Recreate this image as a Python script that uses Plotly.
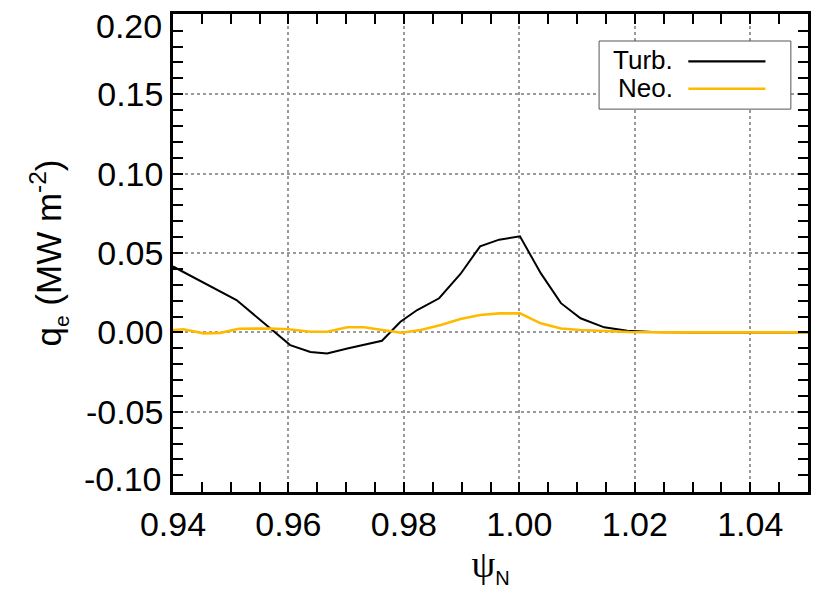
import plotly.graph_objects as go

# ---- data ----
turb_x = [0.940, 0.951, 0.9603, 0.9638, 0.9667, 0.9702, 0.9762, 0.9794, 0.9823, 0.9861,
          0.9898, 0.9932, 0.9965, 1.0001, 1.0037, 1.0072, 1.0106, 1.0147, 1.0187, 1.0230,
          1.030, 1.040, 1.050]
turb_y = [0.0415, 0.0204, -0.0080, -0.0123, -0.0133, -0.0101, -0.0053, 0.0067, 0.0141, 0.0215,
          0.0368, 0.0542, 0.0584, 0.0605, 0.0373, 0.0184, 0.0089, 0.0032, 0.0010, 0.0003,
          0.0, 0.0, 0.0]

neo_x = [0.9400, 0.9418, 0.9453, 0.9482, 0.9514, 0.9569, 0.9600, 0.9638, 0.9667, 0.9702,
         0.9731, 0.9760, 0.9795, 0.9829, 0.9864, 0.9898, 0.9932, 0.9965, 1.0001, 1.0037,
         1.0072, 1.0106, 1.0147, 1.0190, 1.025, 1.050]
neo_y = [0.0015, 0.0020, -0.0006, -0.0003, 0.0023, 0.0025, 0.0020, 0.0004, 0.0004, 0.0032,
         0.0032, 0.0015, -0.0002, 0.0015, 0.0046, 0.0085, 0.0110, 0.0120, 0.0120, 0.0057,
         0.0025, 0.0015, 0.0008, 0.0003, 0.0, 0.0]

x_ticks = [0.94, 0.96, 0.98, 1.00, 1.02, 1.04]
y_ticks = [-0.10, -0.05, 0.00, 0.05, 0.10, 0.15, 0.20]
legend_names = ["Turb.", "Neo."]
colors = ["black", "#FFBA00"]

FONT = "Liberation Sans, Arial, Helvetica, sans-serif"

fig = go.Figure()
fig.add_trace(go.Scatter(x=turb_x, y=turb_y, mode="lines", name=legend_names[0],
                         line=dict(color=colors[0], width=2)))
fig.add_trace(go.Scatter(x=neo_x, y=neo_y, mode="lines", name=legend_names[1],
                         line=dict(color=colors[1], width=2.6)))

axis_common = dict(
    showline=True, linecolor="black", linewidth=2.5, mirror="ticks",
    ticks="inside", ticklen=10, tickwidth=2, tickcolor="black",
    showgrid=True, gridcolor="#9a9a9a", gridwidth=1.5, griddash="dot",
    zeroline=False, automargin=False,
    tickfont=dict(family=FONT, size=34, color="black"),
)

# inner y tick labels come from the axis; the two end labels are nudged inward
# (as in the reference) and drawn as annotations anchored to the y axis values
y_end_ticks = [y_ticks[0], y_ticks[-1]]
y_ticktext = ["" if v in y_end_ticks else f"{v:.2f}" for v in y_ticks]

fig.update_xaxes(range=[0.94, 1.05], tickvals=x_ticks,
                 ticktext=[f"{v:.2f}" for v in x_ticks],
                 minor=dict(dtick=0.005, tick0=0.94, ticks="inside", ticklen=10,
                            tickwidth=2, tickcolor="black", showgrid=False),
                 title=dict(text="ψ<sub><span style='font-family:Liberation Sans;font-size:20px'>N</span></sub>",
                            font=dict(family="Liberation Serif, Times New Roman, serif",
                                      size=38, color="black"),
                            standoff=4),
                 **axis_common)
fig.update_yaxes(range=[-0.1005, 0.2005], tickvals=y_ticks, ticktext=y_ticktext,
                 minor=dict(dtick=0.01, tick0=0.0, ticks="inside", ticklen=10,
                            tickwidth=2, tickcolor="black", showgrid=False),
                 title=dict(text="q<sub><span style='font-size:21px'>e</span></sub> (MW m<sup>-2</sup>)",
                            font=dict(family=FONT, size=35, color="black"),
                            standoff=14),
                 **axis_common)

annotations = []
for v, shift in zip(y_end_ticks, [12, -11]):
    annotations.append(dict(xref="paper", yref="y", x=0, y=v, text=f"{v:.2f}",
                            showarrow=False, xanchor="right", yanchor="middle",
                            xshift=-9, yshift=shift,
                            font=dict(family=FONT, size=34, color="black")))

# custom legend (text left of line sample), in paper coordinates
lx0, lx1, ly0, ly1 = 0.671, 0.973, 0.801, 0.9435
shapes = [dict(type="rect", xref="paper", yref="paper", x0=lx0, x1=lx1, y0=ly0, y1=ly1,
               line=dict(color="#555555", width=1), fillcolor="white", layer="above")]
for i, (nm, col, ly, ty) in enumerate(zip(legend_names, colors, [0.901, 0.8435], [0.904, 0.846])):
    shapes.append(dict(type="line", xref="paper", yref="paper", x0=0.8115, x1=0.933,
                       y0=ly, y1=ly, line=dict(color=col, width=2.6 if i else 2.2),
                       layer="above"))
    annotations.append(dict(xref="paper", yref="paper", x=0.79, y=ty, text=nm,
                            showarrow=False, xanchor="right", yanchor="middle",
                            font=dict(family=FONT, size=26, color="black")))

fig.update_layout(
    width=814, height=592,
    margin=dict(l=173, r=6, t=14, b=100),
    plot_bgcolor="white", paper_bgcolor="white",
    showlegend=False,
    shapes=shapes, annotations=annotations,
    font=dict(family=FONT, color="black"),
)

fig.write_html("out.html")
